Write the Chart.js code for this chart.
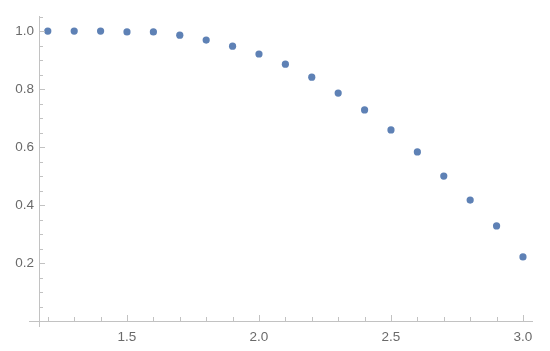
<!DOCTYPE html>
<html>
<head>
<meta charset="utf-8">
<script src="https://cdn.jsdelivr.net/npm/chart.js@4"></script>
<style>
  html, body { margin: 0; padding: 0; background: #fff; }
  #wrap { width: 550px; height: 351px; position: relative; }
</style>
</head>
<body>
<div id="wrap"><canvas id="plot"></canvas></div>
<script>
const xValues = [1.2, 1.3, 1.4, 1.5, 1.6, 1.7, 1.8, 1.9, 2.0, 2.1, 2.2, 2.3, 2.4, 2.5, 2.6, 2.7, 2.8, 2.9, 3.0];
const yValues = [1.0, 1.0, 1.0, 0.997, 0.997, 0.986, 0.969, 0.948, 0.921, 0.886, 0.841, 0.786, 0.728, 0.659, 0.583, 0.5, 0.417, 0.328, 0.221];
const xTicks = [1.5, 2.0, 2.5, 3.0];
const yTicks = [0.2, 0.4, 0.6, 0.8, 1.0];

const axisColor = '#c2c2c2';
const labelColor = '#6a6a6a';

// Mathematica-style axes: ticks pointing inward, minor ticks in between
const frameAxes = {
    id: 'frameAxes',
    afterDatasetsDraw(chart) {
        const ctx = chart.ctx;
        const xs = chart.scales.x;
        const ys = chart.scales.y;
        const x0 = xs.left;
        const y0 = ys.bottom;
        ctx.save();
        ctx.strokeStyle = axisColor;
        ctx.lineWidth = 1;
        ctx.beginPath();
        ctx.moveTo(x0 - 10, y0 + 0.5);
        ctx.lineTo(xs.right, y0 + 0.5);
        ctx.moveTo(x0 + 0.5, ys.top);
        ctx.lineTo(x0 + 0.5, y0 + 6);
        // x ticks every 0.1
        for (let i = 12; i <= 30; i++) {
            const v = i / 10;
            const px = Math.round(xs.getPixelForValue(v)) + 0.5;
            const len = i % 5 === 0 ? 6 : 4;
            ctx.moveTo(px, y0);
            ctx.lineTo(px, y0 - len);
        }
        // y ticks every 0.05
        for (let i = 1; i <= 21; i++) {
            const v = i / 20;
            const py = Math.round(ys.getPixelForValue(v)) + 0.5;
            const len = i % 4 === 0 ? 6 : 4;
            ctx.moveTo(x0, py);
            ctx.lineTo(x0 + len, py);
        }
        ctx.stroke();
        ctx.restore();
    }
};

new Chart(document.getElementById('plot').getContext('2d'), {
    type: 'scatter',
    data: {
        datasets: [{
            data: xValues.map((x, i) => ({ x: x, y: yValues[i] })),
            backgroundColor: '#5e81b5',
            borderWidth: 0,
            pointRadius: 3.6
        }]
    },
    options: {
        responsive: true,
        maintainAspectRatio: false,
        animation: false,
        layout: { padding: { top: 16, right: 17, left: 0, bottom: 0 } },
        plugins: {
            legend: { display: false },
            tooltip: { enabled: false }
        },
        scales: {
            x: {
                type: 'linear',
                min: 1.1667,
                max: 3.038,
                grid: { display: false, drawTicks: false },
                border: { display: false },
                afterBuildTicks: function(scale) {
                    scale.ticks = xTicks.map(v => ({ value: v }));
                },
                afterFit: function(scale) { scale.height = 30; },
                ticks: {
                    padding: 8,
                    color: labelColor,
                    font: { family: 'Liberation Sans', size: 13.5 },
                    maxRotation: 0,
                    callback: v => v.toFixed(1)
                }
            },
            y: {
                type: 'linear',
                min: 0,
                max: 1.052,
                grid: { display: false, drawTicks: false },
                border: { display: false },
                afterBuildTicks: function(scale) {
                    scale.ticks = yTicks.map(v => ({ value: v }));
                },
                afterFit: function(scale) { scale.width = 39; },
                ticks: {
                    padding: 5,
                    color: labelColor,
                    font: { family: 'Liberation Sans', size: 13.5 },
                    callback: v => v.toFixed(1)
                }
            }
        }
    },
    plugins: [frameAxes]
});
</script>
</body>
</html>
